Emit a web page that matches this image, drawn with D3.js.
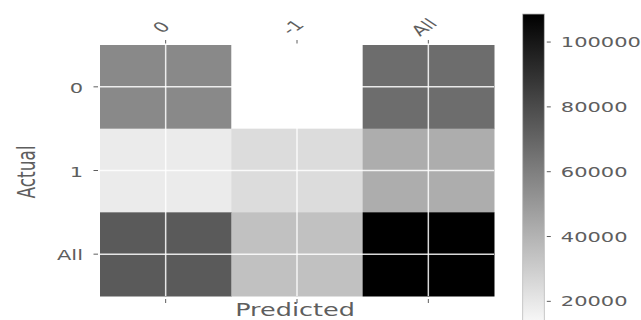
<!DOCTYPE html>
<html>
<head>
<meta charset="utf-8">
<script src="https://cdn.jsdelivr.net/npm/d3@7"></script>
<style>
  html, body { margin: 0; padding: 0; background: #ffffff; }
  svg { display: block; font-family: "DejaVu Sans", sans-serif; }
</style>
</head>
<body>
<script>
// ---- data ----
const rowLabels = ["0", "1", "All"];          // Actual
const colLabels = ["0", "-1", "All"];         // Predicted
const rowValues0   = [56000, 10500, 66500];
const rowValues1   = [18000, 24000, 42000];
const rowValuesAll = [74000, 34500, 108500];
const colorbarTicks = [20000, 40000, 60000, 80000, 100000];
const xLabel = "Predicted";
const yLabel = "Actual";

const matrix = [rowValues0, rowValues1, rowValuesAll];
const cells = [];
matrix.forEach((row, i) => row.forEach((v, j) => cells.push({ r: rowLabels[i], c: colLabels[j], v })));

// ---- layout ----
const W = 641, H = 320;
const SX = 1.5;             // horizontal stretch of text in the reference
const TXT = "#5e5e5e";
const svg = d3.select("body").append("svg").attr("width", W).attr("height", H);

const x = d3.scaleBand().domain(colLabels).range([100, 494]);
const y = d3.scaleBand().domain(rowLabels).range([45, 296]);
const vmin = d3.min(cells, d => d.v), vmax = d3.max(cells, d => d.v);
const color = d3.scaleLinear().domain([vmin, vmax]).range(["#ffffff", "#000000"]);

// cells
svg.append("g").selectAll("rect").data(cells).join("rect")
  .attr("x", d => x(d.c)).attr("y", d => y(d.r))
  .attr("width", x.bandwidth() + 0.5).attr("height", y.bandwidth() + 0.5)
  .attr("fill", d => color(d.v));

// grid lines (white, at tick centres)
const grid = svg.append("g").attr("stroke", "#ffffff").attr("stroke-opacity", 0.85).attr("stroke-width", 1.5);
colLabels.forEach(c => {
  const cx = x(c) + x.bandwidth() / 2;
  grid.append("line").attr("x1", cx).attr("x2", cx).attr("y1", 45).attr("y2", 296);
});
rowLabels.forEach(r => {
  const cy = y(r) + y.bandwidth() / 2;
  grid.append("line").attr("x1", 100).attr("x2", 494).attr("y1", cy).attr("y2", cy);
});

// helper for horizontally-stretched text
function stretchText(g, str, px, py, rot, anchor, size, baseline) {
  return g.append("text")
    .attr("transform", `translate(${px},${py}) scale(${SX},1) rotate(${rot})`)
    .attr("text-anchor", anchor)
    .attr("dominant-baseline", baseline || "auto")
    .attr("font-size", size)
    .attr("fill", TXT)
    .text(str);
}

// top x ticks and labels
const xt = svg.append("g");
colLabels.forEach(c => {
  const cx = x(c) + x.bandwidth() / 2;
  xt.append("line").attr("x1", cx).attr("x2", cx).attr("y1", 40).attr("y2", 43.5)
    .attr("stroke", TXT).attr("stroke-width", 1);
  xt.append("line").attr("x1", cx).attr("x2", cx).attr("y1", 299).attr("y2", 303)
    .attr("stroke", TXT).attr("stroke-width", 1);
  stretchText(xt, c, cx - 4.5, 27, -45, "middle", 14, "central");
});

// y ticks and labels
const yt = svg.append("g");
rowLabels.forEach(r => {
  const cy = y(r) + y.bandwidth() / 2;
  yt.append("line").attr("x1", 93.5).attr("x2", 98).attr("y1", cy).attr("y2", cy)
    .attr("stroke", TXT).attr("stroke-width", 1);
  stretchText(yt, r, 83, cy + 1, 0, "end", 14, "central");
});

// axis titles
stretchText(svg, xLabel, 295, 316, 0, "middle", 17);
stretchText(svg, yLabel, 35, 172, -90, "middle", 17);

// ---- colorbar ----
const cbX = 522.7, cbW = 21.6, cbTop = 14;
const pxPerUnit = 259.3 / 80000;
const cbY = d3.scaleLinear().domain([vmin, vmax]).range([cbTop + (vmax - vmin) * pxPerUnit, cbTop]);

const defs = svg.append("defs");
const grad = defs.append("linearGradient").attr("id", "cbgrad")
  .attr("x1", 0).attr("x2", 0).attr("y1", 1).attr("y2", 0);
d3.range(0, 1.0001, 0.1).forEach(t => {
  grad.append("stop").attr("offset", t).attr("stop-color", color(vmin + t * (vmax - vmin)));
});
svg.append("rect")
  .attr("x", cbX).attr("y", cbY(vmax))
  .attr("width", cbW).attr("height", cbY(vmin) - cbY(vmax))
  .attr("fill", "url(#cbgrad)")
  .attr("stroke", "#bbbbbb").attr("stroke-width", 0.8);

const cbAxis = d3.axisRight(cbY).tickValues(colorbarTicks).tickSize(6).tickPadding(5)
  .tickFormat(d3.format("d"));
const cbG = svg.append("g").attr("transform", `translate(${cbX + cbW + 0.5},0)`).call(cbAxis);
cbG.select(".domain").remove();
cbG.selectAll(".tick line").attr("stroke", TXT).attr("x1", 2);
cbG.selectAll(".tick text").each(function () {
  const t = d3.select(this);
  const tx = +t.attr("x");
  t.attr("x", 0).attr("dy", null)
    .attr("dominant-baseline", "central")
    .attr("transform", `translate(${tx + 5},0) scale(${SX},1)`)
    .attr("font-size", 14).attr("fill", TXT)
    .attr("font-family", "DejaVu Sans, sans-serif");
});
</script>
</body>
</html>
